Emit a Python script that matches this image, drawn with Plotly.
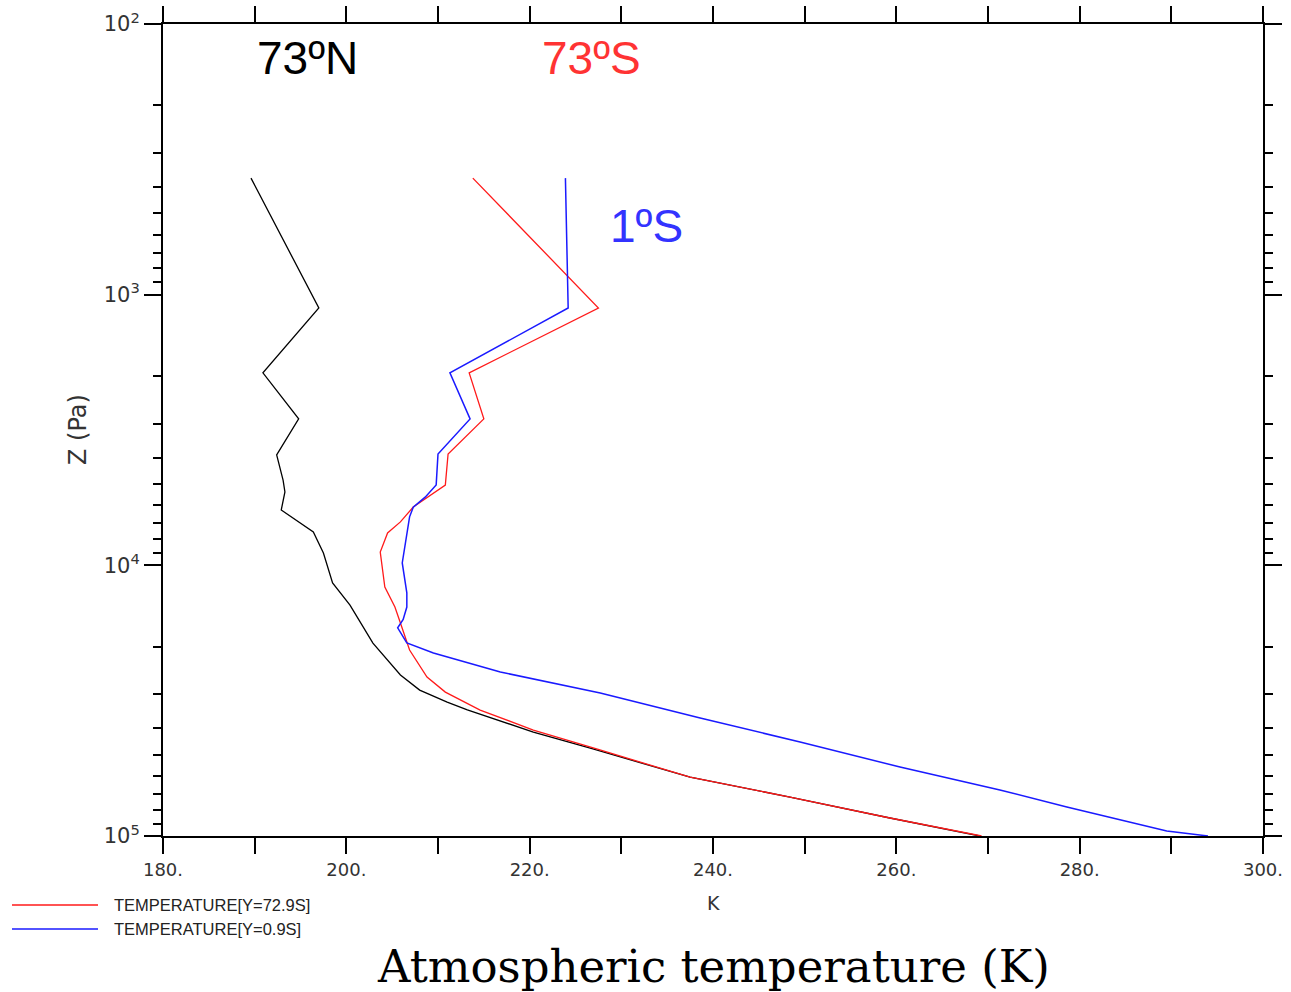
import plotly.graph_objects as go

# ---------------- data ----------------
# 73N profile (black)
p_73N = [371, 1120, 1945, 2877, 3908, 4840, 5356, 6247, 7535, 9000, 11610, 14020,
         19370, 25420, 28900, 32000, 34200, 41300, 47700, 60600, 71800, 85800, 100000]
T_73N = [189.6, 197.0, 190.9, 194.8, 192.4, 193.1, 193.3, 192.9, 196.4, 197.5, 198.5, 200.4,
         202.9, 205.9, 208.0, 211.0, 213.2, 220.4, 226.9, 237.5, 248.4, 259.3, 269.1]

# 73S profile (red)
p_73S = [371, 1120, 1945, 2877, 3880, 5050, 6090, 6910, 7590, 8930, 12030, 14260,
         16330, 20550, 25870, 29400, 34270, 40600, 47700, 60600, 71800, 85800, 100000]
T_73S = [213.8, 227.5, 213.4, 215.0, 211.1, 210.8, 207.3, 205.9, 204.5, 203.7, 204.2, 205.3,
         205.9, 206.9, 208.8, 210.8, 214.6, 220.4, 227.3, 237.5, 248.4, 259.3, 269.3]

# 1S profile (blue)
p_1S = [371, 1120, 1945, 2877, 3880, 5050, 5600, 6100, 6620, 8550, 9800, 12640, 14260,
        15850, 17010, 19360, 21080, 24780, 29630, 36650, 44950, 55610, 67610, 78170,
        89560, 95800, 100000]
T_1S = [223.9, 224.2, 211.3, 213.5, 210.0, 209.8, 208.6, 207.3, 206.9, 206.4, 206.1, 206.6, 206.6,
        206.2, 205.6, 206.6, 209.5, 216.8, 227.7, 238.6, 249.5, 260.4, 271.3, 278.6,
        285.8, 289.5, 294.0]

x_ticks = list(range(180, 301, 20))
x_ticktext = [f"{v}." for v in x_ticks]
x_minor = list(range(190, 300, 20))
y_ticks = [1e2, 1e3, 1e4, 1e5]
y_ticktext = ["10<sup>2</sup>", "10<sup>3</sup>", "10<sup>4</sup>", "10<sup>5</sup>"]
y_minor = [m * 10 ** d for d in range(2, 5) for m in range(2, 10)]

legend_labels = ["TEMPERATURE[Y=72.9S]", "TEMPERATURE[Y=0.9S]"]
legend_colors = ["#ff1a1a", "#1a1aff"]

# ---------------- layout helpers ----------------
W, H = 1291, 992
L, R, T, B = 163, 1263, 24, 836


def px(x):
    return (x - L) / (R - L)


def py(y):
    return (B - y) / (B - T)


fig = go.Figure()
fig.add_trace(go.Scatter(x=T_73N, y=p_73N, mode="lines", line=dict(color="black", width=1.3)))
fig.add_trace(go.Scatter(x=T_73S, y=p_73S, mode="lines", line=dict(color="#ff1a1a", width=1.3)))
fig.add_trace(go.Scatter(x=T_1S, y=p_1S, mode="lines", line=dict(color="#1a1aff", width=1.5)))

axis_common = dict(showgrid=False, zeroline=False, showline=True, linecolor="black",
                   linewidth=2, ticks="outside", tickcolor="black", tickwidth=1.5,
                   mirror="ticks", automargin=False)

fig.update_layout(
    width=W, height=H,
    margin=dict(l=L, r=W - R, t=T, b=H - B),
    plot_bgcolor="white", paper_bgcolor="white",
    showlegend=False,
    xaxis=dict(range=[180, 300], tickmode="array", tickvals=x_ticks, ticktext=x_ticktext,
               ticklen=16, tickfont=dict(family="DejaVu Sans", size=18, color="#333"),
               minor=dict(tickmode="array", tickvals=x_minor, ticks="outside", ticklen=16,
                          tickwidth=1.5, tickcolor="black", showgrid=False),
               **axis_common),
    yaxis=dict(type="log", range=[5, 2], tickmode="array", tickvals=y_ticks,
               ticktext=y_ticktext, ticklen=17,
               tickfont=dict(family="DejaVu Sans", size=21, color="#333"),
               minor=dict(tickmode="array", tickvals=y_minor, ticks="outside", ticklen=8,
                          tickwidth=1.5, tickcolor="black", showgrid=False),
               **axis_common),
)

ann = []
ann.append(dict(text="73ºN", x=px(307), y=py(58), font=dict(family="Liberation Sans, Arial", size=46, color="black")))
ann.append(dict(text="73ºS", x=px(591), y=py(58), font=dict(family="Liberation Sans, Arial", size=46, color="#ff3333")))
ann.append(dict(text="1ºS", x=px(646), y=py(226), font=dict(family="Liberation Sans, Arial", size=46, color="#3333ff")))
ann.append(dict(text="K", x=px(713), y=py(903), font=dict(family="DejaVu Sans", size=19, color="#333")))
ann.append(dict(text="Z (Pa)", x=px(78), y=py(430), textangle=-90,
                font=dict(family="DejaVu Sans", size=24, color="#333")))
ann.append(dict(text="Atmospheric temperature (K)", x=px(713), y=py(966),
                font=dict(family="DejaVu Serif", size=45, color="black")))
for i, (lab, col) in enumerate(zip(legend_labels, legend_colors)):
    yy = 905 + 24 * i
    ann.append(dict(text=lab, x=px(112), y=py(yy), xanchor="left",
                    font=dict(family="Liberation Sans, Arial", size=16.5, color="#222")))
    fig.add_shape(type="line", xref="paper", yref="paper", x0=px(12), x1=px(98),
                  y0=py(yy), y1=py(yy), line=dict(color=col, width=1.5))

for a in ann:
    a.setdefault("xanchor", "center")
    a.update(xref="paper", yref="paper", showarrow=False, yanchor="middle")
    fig.add_annotation(**a)

fig.write_html("out.html")
